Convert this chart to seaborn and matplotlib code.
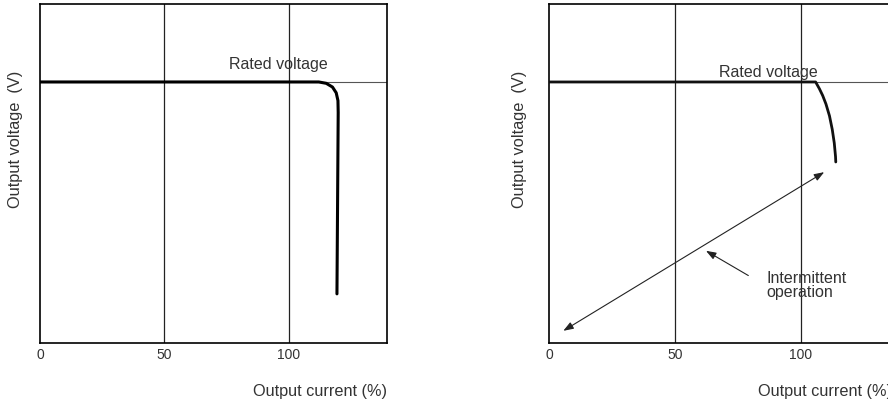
import numpy as np
import pandas as pd
import matplotlib
matplotlib.use("Agg")
import matplotlib.pyplot as plt
import seaborn as sns

# values (voltage in arbitrary % of axis height)
rated_voltage = 77
x_ticks = [0, 50, 100]
grid_x = [50, 100]

# left: constant-voltage drop (rounded corner, then vertical drop)
left_current = [0, 112, 115, 117.5, 119, 119.7, 119.8, 119.3]
left_voltage = [77, 77, 76.6, 75.5, 73.8, 71.5, 68, 14.5]

# right: fold-back then intermittent operation
right_current = [0, 105.8, 107.3, 108.6, 109.9, 111.3, 112.4, 113.2, 113.7, 113.8]
right_voltage = [77, 77, 75, 73, 70.5, 67, 63, 59, 55, 53.4]

# intermittent double arrow + pointer
interm_start = (5.7, 3.6)
interm_end = (109.2, 50.4)
pointer_tip = (62.3, 27.2)
pointer_tail = (79.1, 19.9)

TXT = "#333333"
HEAD = "head_length=0.6,head_width=0.22"


def setup_panel(ax, xmax, ylab_x):
    for x in grid_x:
        ax.axvline(x, color="#222222", lw=0.9, zorder=1)
    ax.axhline(rated_voltage, color="#555555", lw=0.8, zorder=1)
    ax.set_xlim(0, xmax)
    ax.set_ylim(0, 100)
    ax.set_xticks(x_ticks)
    ax.set_xticklabels([str(t) for t in x_ticks])
    ax.set_yticks([])
    ax.tick_params(axis="x", length=0, pad=3, labelsize=10, colors=TXT)
    for s in ax.spines.values():
        s.set_visible(True)
        s.set_color("black")
        s.set_linewidth(1.2)
    ax.set_ylabel("Output voltage  (V)", fontsize=11.8, color=TXT)
    ax.yaxis.set_label_coords(ylab_x, 0.605)
    ax.set_xlabel("Output current (%)", fontsize=11.7, color=TXT, ha="right")
    ax.xaxis.set_label_coords(1.0, -0.118)


def main():
    sns.set_style("white")
    plt.rcParams["font.family"] = ["Liberation Sans", "DejaVu Sans"]

    fig = plt.figure(figsize=(8.88, 4.06), dpi=100)
    ax1 = fig.add_axes([0.045, 0.1527, 0.3908, 0.835])
    ax2 = fig.add_axes([0.6182, 0.1527, 0.386, 0.835])

    df1 = pd.DataFrame({"current": left_current, "voltage": left_voltage})
    sns.lineplot(data=df1, x="current", y="voltage", sort=False, ax=ax1,
                 color="black", lw=2.2, zorder=3)
    ax1.text(95.6, 82.3, "Rated voltage", ha="center", va="center",
             fontsize=11.5, color=TXT)

    df2 = pd.DataFrame({"current": right_current, "voltage": right_voltage})
    sns.lineplot(data=df2, x="current", y="voltage", sort=False, ax=ax2,
                 color="#111111", lw=2.0, zorder=3)
    ax2.text(87.2, 80.2, "Rated voltage", ha="center", va="center",
             fontsize=11.5, color=TXT)

    ax2.annotate("", xy=interm_start, xytext=interm_end,
                 arrowprops=dict(arrowstyle="<|-|>," + HEAD, lw=0.8,
                                 color="#222222", mutation_scale=10,
                                 shrinkA=0, shrinkB=0))
    ax2.annotate("", xy=pointer_tip, xytext=pointer_tail,
                 arrowprops=dict(arrowstyle="-|>," + HEAD, lw=0.8,
                                 color="#222222", mutation_scale=10,
                                 shrinkA=0, shrinkB=0))
    ax2.text(86.4, 21.6, "Intermittent\noperation", ha="left", va="top",
             fontsize=11.5, color=TXT, linespacing=0.95)

    setup_panel(ax1, 139.4, -0.049)
    setup_panel(ax2, 136, -0.064)

    fig.savefig("out.png", dpi=100)


if __name__ == "__main__":
    main()
